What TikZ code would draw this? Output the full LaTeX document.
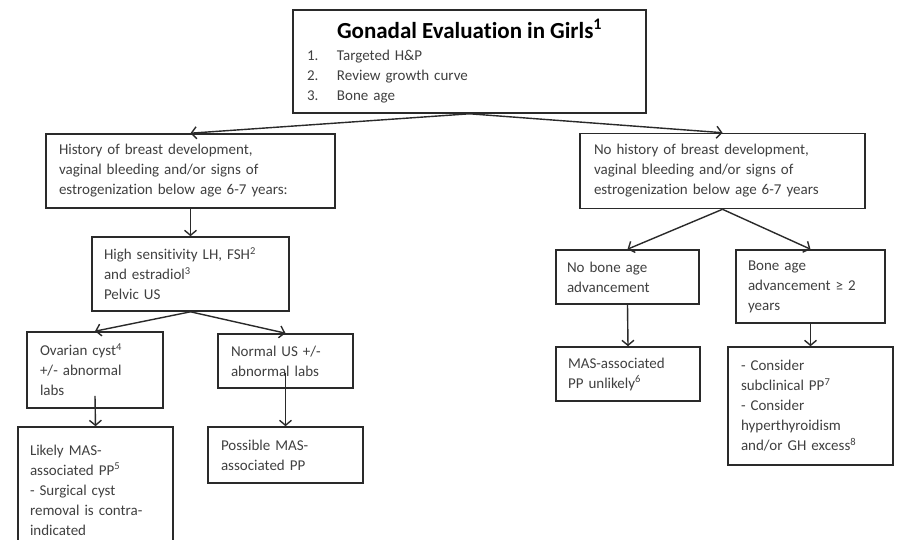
\documentclass[tikz,border=0pt]{standalone}
\usepackage{fontspec}
\setmainfont{Carlito}[Ligatures=NoCommon]
\usetikzlibrary{arrows.meta}
\definecolor{linec}{HTML}{2A2A2A}
\definecolor{textc}{HTML}{404040}
\tikzset{
  box/.style={draw=linec, line width=1.6pt, align=left, inner ysep=0pt,
    font=\fontsize{15}{20}\selectfont, text=textc},
  arr/.style={draw=linec, line width=1.4pt, -{Straight Barb[length=5pt,width=12pt,line width=1.4pt]}}
}
\begin{document}
\begin{tikzpicture}[x=1pt,y=-1pt]
\useasboundingbox[fill=white] (0,0) rectangle (897,540);

\node[box, minimum width=353pt, minimum height=103pt, text width=325pt, inner xsep=14pt] (top) at (469.5,61.5)
 {{\centering\fontsize{23}{27}\selectfont\bfseries\color{black}Gonadal Evaluation in Girls\textsuperscript{1}\par}\vspace{2pt}
  \makebox[30pt][l]{1.}Targeted H\&P\\
  \makebox[30pt][l]{2.}Review growth curve\\
  \makebox[30pt][l]{3.}Bone age};

\node[box, minimum width=289pt, minimum height=74pt, text width=263pt, inner xsep=13pt] (b1) at (190.5,171)
 {History of breast development,\\vaginal bleeding and/or signs of\\estrogenization below age 6-7 years:};
\node[box, minimum width=285pt, minimum height=75pt, text width=257pt, inner xsep=14pt] (b2) at (722.5,171)
 {No history of breast development,\\vaginal bleeding and/or signs of\\estrogenization below age 6-7 years};

\node[box, minimum width=197pt, minimum height=74pt, text width=173pt, inner xsep=12pt] (c1) at (190.5,274)
 {High sensitivity LH, FSH\textsuperscript{2}\\and estradiol\textsuperscript{3}\\Pelvic US};

\node[box, minimum width=136pt, minimum height=76pt, text width=110pt, inner xsep=13pt] (d1) at (95,370)
 {Ovarian cyst\textsuperscript{4}\\+/- abnormal\\labs};
\node[box, minimum width=135pt, minimum height=54pt, text width=109pt, inner xsep=13pt] (d2) at (285.5,361)
 {Normal US +/-\\abnormal labs};

\node[box, minimum width=155pt, minimum height=126pt, text width=131pt, inner xsep=12pt] (e1) at (95.5,490)
 {Likely MAS-\\associated PP\textsuperscript{5}\\- Surgical cyst\\removal is contra-\\indicated};
\node[box, minimum width=155pt, minimum height=56pt, text width=129pt, inner xsep=13pt] (e2) at (285.5,455)
 {Possible MAS-\\associated PP};

\node[box, minimum width=143pt, minimum height=54pt, text width=121pt, inner xsep=11pt] (c3) at (627.5,277)
 {No bone age\\advancement};
\node[box, minimum width=149pt, minimum height=73pt, text width=125pt, inner xsep=12pt] (c4) at (810.5,286.5)
 {Bone age\\advancement ≥ 2\\years};

\node[box, minimum width=144pt, minimum height=54pt, text width=120pt, inner xsep=12pt] (d3) at (628,374)
 {MAS-associated\\PP unlikely\textsuperscript{6}};
\node[box, minimum width=165pt, minimum height=118pt, text width=139pt, inner xsep=13pt] (d4) at (810.5,406)
 {- Consider\\subclinical PP\textsuperscript{7}\\- Consider\\hyperthyroidism\\and/or GH excess\textsuperscript{8}};

\draw[arr] (top.south) -- (b1.north);
\draw[arr] (top.south) -- (b2.north);
\draw[arr] (b1.south) -- (c1.north);
\draw[arr] (c1.south) -- (d1.north);
\draw[arr] (c1.south) -- (d2.north);
\draw[arr] ([yshift=13pt]d1.south) -- (e1.north);
\draw[arr] ([yshift=16pt]d2.south) -- (e2.north);
\draw[arr] (b2.south) -- (c3.north);
\draw[arr] (b2.south) -- (c4.north);
\draw[arr] (c3.south) -- (d3.north);
\draw[arr] (c4.south) -- (d4.north);
\end{tikzpicture}
\end{document}
